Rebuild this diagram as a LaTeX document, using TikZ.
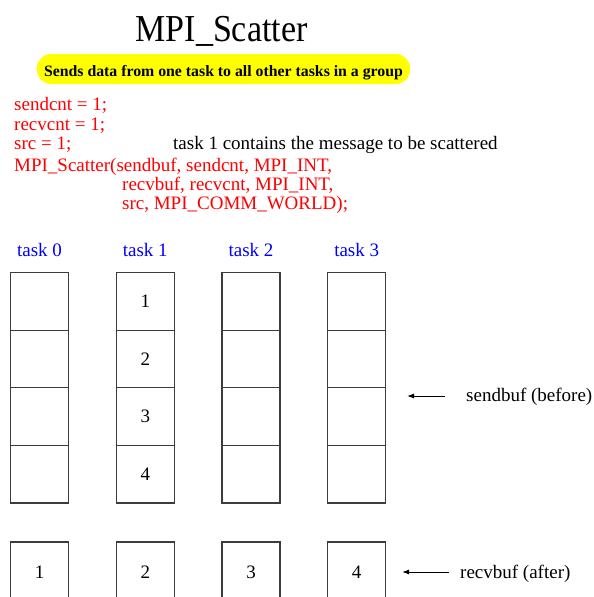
\documentclass[tikz,border=0pt]{standalone}
\usepackage{fontspec}
\setmainfont{Liberation Serif}
\usetikzlibrary{arrows.meta}
\definecolor{hlyellow}{RGB}{255,255,0}
\definecolor{boxline}{RGB}{60,60,60}
\tikzset{
  cell/.style={draw=boxline, line width=1.2pt, minimum width=58pt, minimum height=57.6pt, inner sep=0pt, font=\fontsize{19}{20}\selectfont},
  tasklbl/.style={text=blue, font=\fontsize{19}{20}\selectfont, inner sep=0pt, anchor=base},
  redcode/.style={text=red, font=\fontsize{19}{19.2}\selectfont, anchor=base west, inner sep=0pt, align=left},
  side/.style={font=\fontsize{19}{20}\selectfont, anchor=base west, inner sep=0pt},
  ptr/.style={line width=1pt, -{Latex[length=7pt,width=5pt]}}
}
\begin{document}
\begin{tikzpicture}[x=1pt,y=-1pt]
\useasboundingbox (0,0) rectangle (594,597);
\node[inner sep=0pt, font=\fontsize{34}{36}\selectfont, yscale=1.12, anchor=base] (title) at (221.5,41) {MPI\_Scatter};
\node[fill=hlyellow, rounded corners=14pt, minimum width=373pt, minimum height=30pt, inner sep=0pt] (sub) at (223.5,69) {};
\node[inner sep=0pt, anchor=base, font=\bfseries\fontsize{15.8}{17}\selectfont] (subtxt) at (223.5,76) {Sends data from one task to all other tasks in a group};
\node[redcode] (c1) at (14,110.7) {sendcnt = 1;};
\node[redcode] (c2) at (14,130) {recvcnt = 1;};
\node[redcode] (c3) at (14,149.3) {src = 1;};
\node[redcode] (c4) at (14,171) {MPI\_Scatter(sendbuf, sendcnt, MPI\_INT,};
\node[redcode] (c5) at (122,190) {recvbuf, recvcnt, MPI\_INT,};
\node[redcode] (c6) at (122,209) {src, MPI\_COMM\_WORLD);};
\node[side] (note) at (173,149.3) {task 1 contains the message to be scattered};
\foreach \i/\x in {0/39.5,1/145.3,2/251,3/356.7}{
  \node[tasklbl] (t\i) at (\x,256) {task \i};
  \node[cell] (s\i a) at (\x,301.3) {};
  \node[cell] (s\i b) at (\x,358.9) {};
  \node[cell] (s\i c) at (\x,416.5) {};
  \node[cell] (s\i d) at (\x,474.1) {};
}
\node[font=\fontsize{19}{20}\selectfont] at (s1a) {1};
\node[font=\fontsize{19}{20}\selectfont] at (s1b) {2};
\node[font=\fontsize{19}{20}\selectfont] at (s1c) {3};
\node[font=\fontsize{19}{20}\selectfont] at (s1d) {4};
\foreach \i/\x/\v in {0/39.5/1,1/145.3/2,2/251/3,3/356.7/4}{
  \node[cell, minimum height=60pt] (r\i) at (\x,572) {\v};
}
\node[side] (sendlbl) at (466,401) {sendbuf (before)};
\coordinate (sendtip) at (407,396);
\draw[ptr] (445,396) -- (sendtip);
\node[side] (recvlbl) at (460,578) {recvbuf (after)};
\coordinate (recvtip) at (402,572);
\draw[ptr] (449,572) -- (recvtip);
\end{tikzpicture}
\end{document}
